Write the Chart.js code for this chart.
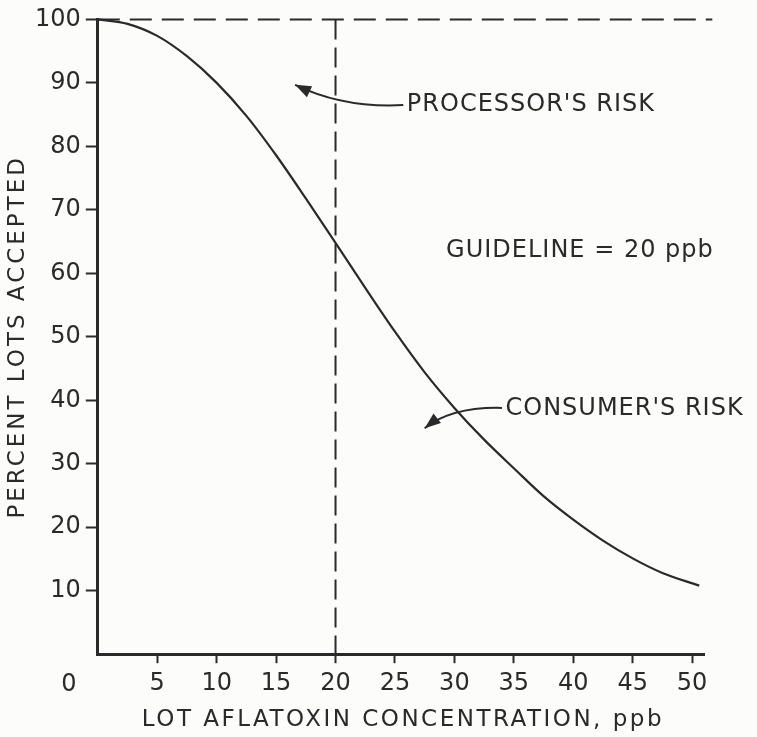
<!DOCTYPE html>
<html>
<head>
<meta charset="utf-8">
<script src="https://cdn.jsdelivr.net/npm/chart.js@4"></script>
<style>
  html, body { margin: 0; padding: 0; background: #fcfcfa; }
  #wrap { width: 757px; height: 737px; }
</style>
</head>
<body>
<div id="wrap"><canvas id="chart" width="757" height="737"></canvas></div>
<script>
// Operating characteristic curve
const concPpb = [0, 2.5, 5, 7.5, 10, 12.5, 15, 17.5, 20, 22.5, 25, 27.5, 30, 32.5, 35, 37.5, 40, 42.5, 45, 47.5, 50.6];
const pctAccepted = [100, 99.3, 97.4, 94.2, 90.0, 84.8, 78.6, 71.8, 64.8, 57.7, 50.8, 44.4, 38.8, 33.8, 29.3, 24.9, 21.2, 17.9, 15.1, 12.8, 10.8];

const xTickValues = [5, 10, 15, 20, 25, 30, 35, 40, 45, 50];
const yTickValues = [10, 20, 30, 40, 50, 60, 70, 80, 90, 100];

const GUIDELINE = 20;
const X_MAX = 51;
const TOP_LINE_END = 51.7;

const INK = "#2a2a2a";
const FONT = "DejaVu Sans";

// annotation anchors in data units: [x, y]
const notes = [
  { text: "PROCESSOR'S RISK", at: [26.0, 86.5], tail: [25.7, 86.5], ctrl: [20.7, 86.0], head: [16.6, 89.7] },
  { text: "GUIDELINE = 20 ppb", at: [29.3, 63.6] },
  { text: "CONSUMER'S RISK", at: [34.3, 38.7], tail: [34.0, 38.8], ctrl: [29.8, 39.0], head: [27.5, 35.6] },
];

const xTitle = "LOT AFLATOXIN CONCENTRATION, ppb";
const yTitle = "PERCENT LOTS ACCEPTED";

const annotate = {
  id: "annotate",
  afterDraw(chart) {
    const { ctx, scales: { x, y } } = chart;
    const px = (p) => [x.getPixelForValue(p[0]), y.getPixelForValue(p[1])];
    ctx.save();
    ctx.fillStyle = INK;
    ctx.strokeStyle = INK;
    ctx.font = `24px "${FONT}"`;
    ctx.letterSpacing = "1px";
    ctx.textBaseline = "middle";
    ctx.textAlign = "left";
    notes.forEach(n => {
      const [tx, ty] = px(n.at);
      ctx.fillText(n.text, tx, ty);
      if (!n.head) return;
      const [ax, ay] = px(n.tail);
      const [cx, cy] = px(n.ctrl);
      const [hx, hy] = px(n.head);
      ctx.lineWidth = 2;
      ctx.beginPath();
      ctx.moveTo(ax, ay);
      ctx.quadraticCurveTo(cx, cy, hx, hy);
      ctx.stroke();
      // arrowhead along tangent at head
      const ang = Math.atan2(hy - cy, hx - cx);
      const len = 16, wid = 6;
      ctx.beginPath();
      ctx.moveTo(hx, hy);
      ctx.lineTo(hx - len * Math.cos(ang) + wid * Math.sin(ang), hy - len * Math.sin(ang) - wid * Math.cos(ang));
      ctx.lineTo(hx - len * Math.cos(ang) - wid * Math.sin(ang), hy - len * Math.sin(ang) + wid * Math.cos(ang));
      ctx.closePath();
      ctx.fill();
    });

    // origin "0" sits left of the axis corner
    ctx.font = `24px "${FONT}"`;
    ctx.letterSpacing = "0px";
    ctx.textAlign = "center";
    ctx.fillText("0", x.getPixelForValue(0) - 29, y.getPixelForValue(0) + 31);

    // axis titles, letter-spaced like the drafted lettering
    ctx.font = `23px "${FONT}"`;
    ctx.letterSpacing = "2.5px";
    ctx.fillText(xTitle, (x.left + x.right) / 2 + 2, 720);
    ctx.translate(18, (y.top + y.bottom) / 2);
    ctx.rotate(-Math.PI / 2);
    ctx.letterSpacing = "3px";
    ctx.fillText(yTitle, 0, 0);
    ctx.restore();
  },
};

new Chart(document.getElementById("chart"), {
  type: "line",
  data: {
    datasets: [
      {
        data: concPpb.map((c, i) => ({ x: c, y: pctAccepted[i] })),
        borderColor: INK,
        borderWidth: 2.2,
        pointRadius: 0,
        cubicInterpolationMode: "monotone",
        clip: false,
      },
      {
        data: [{ x: 0, y: 100 }, { x: TOP_LINE_END, y: 100 }],
        borderColor: INK,
        borderWidth: 2,
        borderDash: [22, 10],
        pointRadius: 0,
        clip: false,
      },
      {
        data: [{ x: GUIDELINE, y: 100 }, { x: GUIDELINE, y: 0 }],
        borderColor: INK,
        borderWidth: 2,
        borderDash: [20, 8],
        pointRadius: 0,
        clip: false,
      },
    ],
  },
  options: {
    responsive: false,
    animation: false,
    layout: { padding: { top: 17, right: 53, bottom: 33, left: 30 } },
    plugins: { legend: { display: false }, tooltip: { enabled: false } },
    scales: {
      x: {
        type: "linear",
        min: 0,
        max: X_MAX,
        afterBuildTicks: (s) => { s.ticks = xTickValues.map(v => ({ value: v })); },
        grid: { drawOnChartArea: false, tickLength: 9, tickWidth: 2, color: INK },
        border: { color: INK, width: 3 },
        ticks: { color: INK, font: { family: FONT, size: 24 }, padding: 6, maxRotation: 0 },
      },
      y: {
        min: 0,
        max: 100,
        afterBuildTicks: (s) => { s.ticks = yTickValues.map(v => ({ value: v })); },
        grid: { drawOnChartArea: false, tickLength: 12, tickWidth: 2, color: INK },
        border: { color: INK, width: 3 },
        ticks: { color: INK, font: { family: FONT, size: 24 }, padding: 5 },
      },
    },
  },
  plugins: [annotate],
});
</script>
</body>
</html>
